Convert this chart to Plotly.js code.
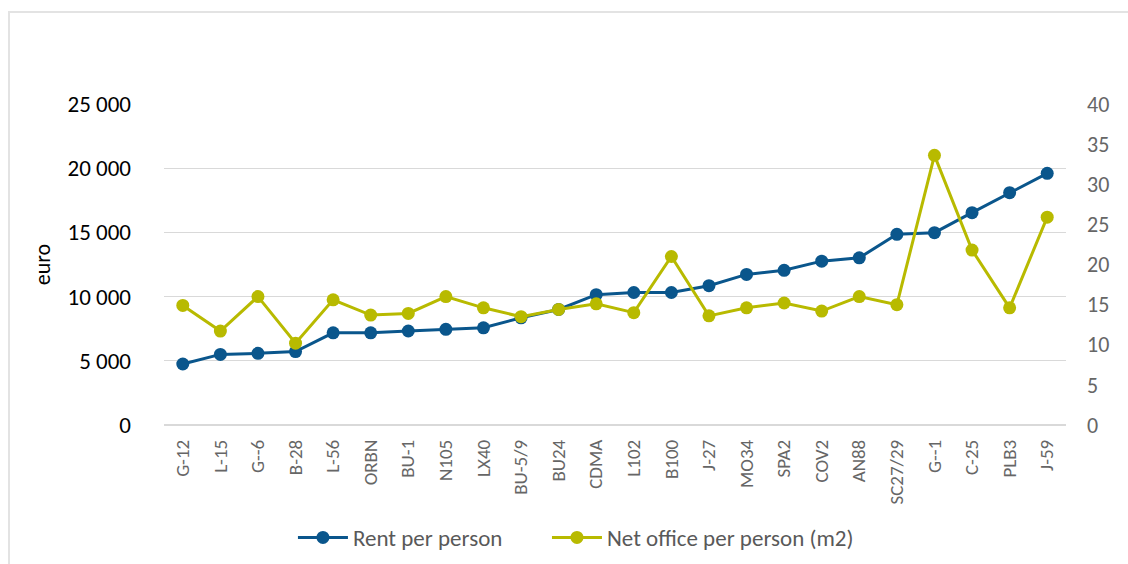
<!DOCTYPE html>
<html>
<head>
<meta charset="utf-8">
<script src="https://cdn.plot.ly/plotly-3.0.1.min.js"></script>
<style>
  html, body { margin: 0; padding: 0; background: #ffffff; overflow: hidden; }
  #frame { position: absolute; left: 8px; top: 11px; width: 1200px; height: 600px;
           border-left: 2px solid #e3e3e3; border-top: 2px solid #e3e3e3; box-sizing: border-box; }
  #chart { position: absolute; left: 0; top: 0; width: 1128px; height: 564px; }
</style>
</head>
<body>
<div id="frame"></div>
<div id="chart"></div>
<script>
const categories = ["G-12","L-15","G--6","B-28","L-56","ORBN","BU-1","N105","LX40","BU-5/9","BU24","CDMA","L102","B100","J-27","MO34","SPA2","COV2","AN88","SC27/29","G--1","C-25","PLB3","J-59"];
const rentPerPerson = [4750,5500,5580,5720,7180,7180,7320,7450,7570,8350,9000,10150,10320,10320,10850,11730,12050,12760,13020,14850,14980,16540,18090,19600];
const officePerPerson = [14.9,11.7,16.0,10.2,15.6,13.7,13.9,16.0,14.6,13.5,14.4,15.1,14.0,21.0,13.6,14.6,15.2,14.2,16.0,15.0,33.6,21.8,14.6,25.9];
const leftTicks = [0,5000,10000,15000,20000,25000];
const rightTicks = [0,5,10,15,20,25,30,35,40];
const seriesNames = ["Rent per person","Net office per person (m2)"];

const FONT = "Carlito, Lato, 'Liberation Sans', sans-serif";
const BLUE = "#0A568C";
const YELLOW = "#B8BA00";

const traces = [
  {
    x: categories, y: rentPerPerson, name: seriesNames[0], type: "scatter", mode: "lines+markers",
    line: {color: BLUE, width: 3}, marker: {color: BLUE, size: 13}, yaxis: "y", legend: "legend"
  },
  {
    x: categories, y: officePerPerson, name: seriesNames[1], type: "scatter", mode: "lines+markers",
    line: {color: YELLOW, width: 3}, marker: {color: YELLOW, size: 13}, yaxis: "y2", legend: "legend2"
  }
];

const legendBase = {
  orientation: "h", xref: "container", yref: "container", xanchor: "left", yanchor: "middle",
  y: 0.047, font: {family: FONT, size: 23, color: "#595959"}, itemwidth: 50,
  bgcolor: "rgba(0,0,0,0)"
};

const layout = {
  width: 1128, height: 564,
  margin: {l: 164, r: 62, t: 104, b: 139, autoexpand: false},
  paper_bgcolor: "rgba(0,0,0,0)",
  plot_bgcolor: "rgba(0,0,0,0)",
  separators: ", ",
  font: {family: FONT, size: 19, color: "#595959"},
  showlegend: true,
  legend: Object.assign({}, legendBase, {x: 0.2597}),
  legend2: Object.assign({}, legendBase, {x: 0.4849}),
  xaxis: {
    type: "category", range: [-0.5, 23.5], showgrid: false, zeroline: false, showline: false, automargin: false,
    tickangle: -90, tickfont: {family: FONT, size: 19, color: "#666666"},
    ticklabelstandoff: 10
  },
  yaxis: {
    range: [0, 25000], tickvals: leftTicks, tickformat: ",d", automargin: false,
    showgrid: true, gridcolor: "#d9d9d9", gridwidth: 1.3,
    zeroline: true, zerolinecolor: "#d9d9d9", zerolinewidth: 1.3, showline: false,
    tickfont: {family: FONT, size: 23, color: "#000000"},
    ticklabelstandoff: 32,
    title: {text: "euro", font: {family: FONT, size: 22, color: "#000000"}, standoff: 10}
  },
  yaxis2: {
    range: [0, 40], tickvals: rightTicks, overlaying: "y", side: "right", automargin: false,
    showgrid: false, zeroline: false, showline: false,
    tickfont: {family: FONT, size: 22, color: "#666666"},
    ticklabelstandoff: 20
  }
};

Plotly.newPlot("chart", traces, layout, {displayModeBar: false, staticPlot: true});
</script>
</body>
</html>
